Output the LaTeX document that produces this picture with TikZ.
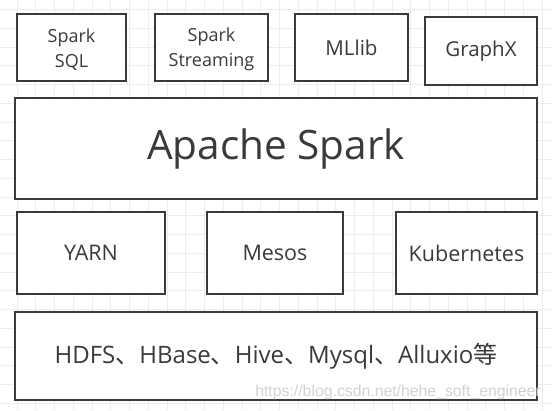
\documentclass[tikz,border=0pt]{standalone}
\usepackage{fontspec}
\setmainfont{Open Sans}
\newfontfamily\cjk{Noto Sans CJK SC}
\newfontfamily\markfont{Liberation Sans}
\usetikzlibrary{positioning}
\definecolor{boxline}{HTML}{3A3A3A}
\definecolor{gridline}{HTML}{ECECEC}
\definecolor{marktext}{HTML}{D2D2D2}

\begin{document}
\begin{tikzpicture}[x=1pt, y=-1pt,
  layer/.style={draw=boxline, line width=1.6pt, fill=white, inner sep=0pt,
    align=center, text=boxline},
  small/.style={font=\fontsize{18}{24.5}\selectfont},
  mid/.style={font=\fontsize{21.5}{26}\selectfont}]

  % canvas and grid
  \useasboundingbox (0,0) rectangle (552,410);
  \fill[white] (0,0) rectangle (552,410);
  \foreach \k in {-1,...,29}
    \draw[gridline, line width=0.8pt] ({17+18.75*\k},0) -- ({17+18.75*\k},410);
  \foreach \k in {0,...,21}
    \draw[gridline, line width=0.8pt] (0,{9.5+18.75*\k}) -- (552,{9.5+18.75*\k});

  % top row: libraries
  \node[layer, small, minimum width=109pt, minimum height=67pt] (sql) at (71.5,47.5) {};
  \node[small, text=boxline, align=center, inner sep=0pt] (sqltext) at (71.5,49.5) {Spark\\SQL};
  \node[layer, small, minimum width=113pt, minimum height=67pt] (streaming) at (211.5,47.5) {};
  \node[small, text=boxline, align=center, inner sep=0pt] (streamingtext) at (211.5,49.5) {Spark\\Streaming};
  \node[layer, font=\fontsize{20.5}{24}\selectfont, minimum width=113pt, minimum height=67pt] (mllib) at (351.5,47.5) {MLlib};
  \node[layer, font=\fontsize{20.5}{24}\selectfont, minimum width=112pt, minimum height=68pt] (graphx) at (481,51) {GraphX};

  % core
  \node[layer, font=\fontsize{40.5}{46}\selectfont, minimum width=522pt, minimum height=101pt] (spark) at (276,148.5) {Apache Spark};

  % cluster managers
  \node[layer, mid, minimum width=148pt, minimum height=82pt] (yarn) at (91,253) {YARN};
  \node[layer, mid, minimum width=136pt, minimum height=82pt] (mesos) at (275,253) {Mesos};
  \node[layer, mid, minimum width=141pt, minimum height=82pt] (kube) at (466.5,253) {Kubernetes};

  % storage
  \node[layer, font=\fontsize{24}{28}\selectfont, minimum width=522pt, minimum height=88pt] (storage) at (276,356)
    {HDFS{\cjk 、}HBase{\cjk 、}Hive{\cjk 、}Mysql{\cjk 、}Alluxio{\cjk 等}};

  % watermark
  \node[anchor=base east, inner sep=0pt, text=marktext, font=\markfont\fontsize{15.8}{16}\selectfont] (mark) at (541,396)
    {https://blog.csdn.net/hehe\_soft\_engineer};

\end{tikzpicture}
\end{document}
